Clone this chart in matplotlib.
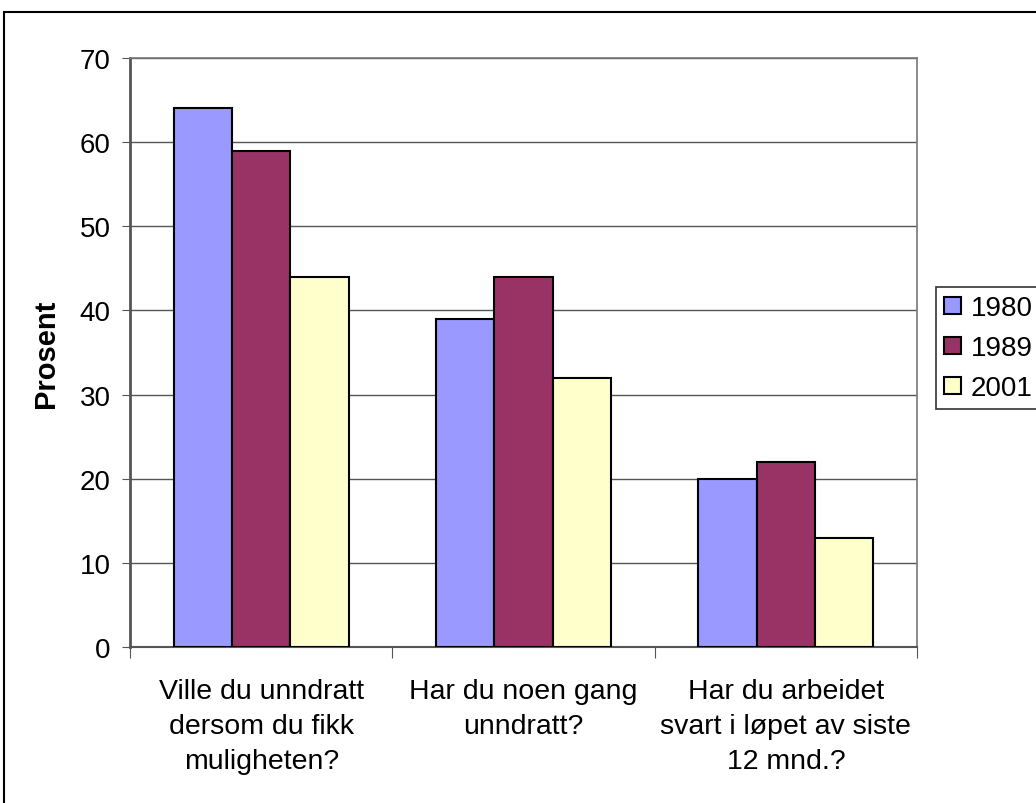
import matplotlib.pyplot as plt
import numpy as np
from matplotlib.patches import Rectangle

categories = [
    "Ville du unndratt\ndersom du fikk\nmuligheten?",
    "Har du noen gang\nunndratt?",
    "Har du arbeidet\nsvart i løpet av siste\n12 mnd.?",
]
years = ["1980", "1989", "2001"]
v1980 = [64, 39, 20]
v1989 = [59, 44, 22]
v2001 = [44, 32, 13]
colors = ["#9999FF", "#993366", "#FFFFCC"]

plt.rcParams["font.family"] = ["Liberation Sans", "DejaVu Sans"]

fig = plt.figure(figsize=(10.36, 8.04), dpi=100)
ax = fig.add_axes([130 / 1036, 1 - 648 / 804, 787 / 1036, 589 / 804])

x = np.arange(len(categories))
w = 0.2225
for i, (vals, lab) in enumerate(zip([v1980, v1989, v2001], years)):
    ax.bar(x + (i - 1) * w, vals, width=w, color=colors[i], edgecolor="black",
           linewidth=1.5, label=lab, zorder=3)

ax.set_xlim(-0.5, 2.5)
ax.set_ylim(0, 70)
ax.set_yticks(range(0, 71, 10))
ax.yaxis.grid(True, color="#555555", linewidth=1, zorder=0)
ax.tick_params(axis="y", labelsize=20, length=6, color="#555555", pad=8)

ax.set_xticks([-0.5, 0.5, 1.5, 2.5])
ax.set_xticklabels([])
ax.set_xticks(x, minor=True)
ax.set_xticklabels(categories, minor=True, fontsize=20.5, linespacing=1.45)
ax.tick_params(axis="x", which="major", length=8, color="#555555", direction="out")
ax.tick_params(axis="x", which="minor", length=0, pad=22)

for s in ax.spines.values():
    s.set_color("#777777")
    s.set_linewidth(1.2)
ax.spines["left"].set_color("#555555")
ax.spines["left"].set_linewidth(2)
ax.spines["bottom"].set_color("#555555")
ax.spines["bottom"].set_linewidth(1.5)

ax.set_ylabel("Prosent", fontsize=21, fontweight="bold", labelpad=14)

leg = ax.legend(loc="upper left", bbox_to_anchor=(936 / 1036, 1 - 288 / 804),
                bbox_transform=fig.transFigure, fontsize=20, frameon=True,
                fancybox=False, edgecolor="black", borderpad=0.3,
                handlelength=0.6, handleheight=0.6, handletextpad=0.36,
                labelspacing=0.5, borderaxespad=0)
leg.get_frame().set_linewidth(1.2)

fig.patches.append(Rectangle((4 / 1036, -0.1), 1.2, 1 - 13 / 804 + 0.1,
                             transform=fig.transFigure, fill=False,
                             edgecolor="black", linewidth=1.5))

fig.savefig("out.png", dpi=100)
